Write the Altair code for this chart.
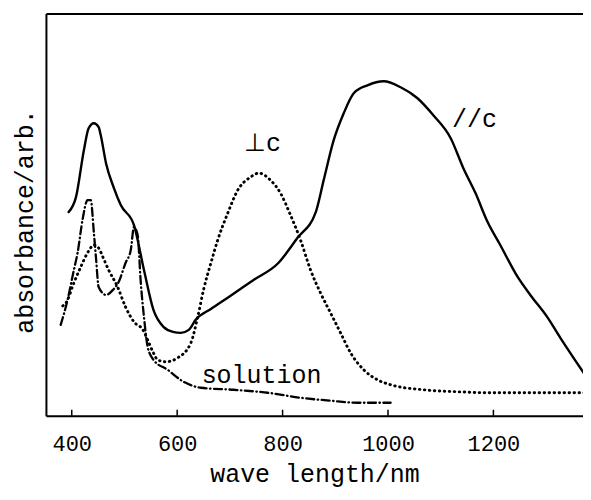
import altair as alt
import pandas as pd

# ---- data ----
# //c  (solid)
par_wl = [394, 408, 423, 432, 442, 451, 455, 465, 480, 493, 518, 537, 555, 574, 592, 607, 622, 635, 664, 698, 745, 792, 828, 863, 878, 897, 916, 935, 961, 992, 1024, 1056, 1086, 1119, 1143, 1166, 1189, 1213, 1246, 1270, 1302, 1327, 1352, 1384]
par_ab = [2.04, 2.19, 2.66, 2.88, 2.93, 2.89, 2.81, 2.53, 2.28, 2.11, 1.91, 1.46, 1.06, 0.89, 0.84, 0.83, 0.86, 0.96, 1.07, 1.19, 1.36, 1.53, 1.78, 2.04, 2.36, 2.76, 3.03, 3.23, 3.31, 3.35, 3.29, 3.18, 3.01, 2.78, 2.48, 2.23, 1.94, 1.71, 1.39, 1.21, 0.99, 0.78, 0.58, 0.33]
# perpendicular c (dotted)
perp_wl = [383, 389, 404, 417, 432, 442, 451, 459, 470, 487, 502, 518, 535, 544, 554, 563, 578, 601, 626, 639, 650, 664, 677, 696, 715, 739, 755, 777, 796, 815, 834, 853, 872, 891, 910, 929, 954, 980, 1005, 1067, 1132, 1194, 1321, 1384]
perp_ab = [1.10, 1.13, 1.33, 1.49, 1.65, 1.71, 1.68, 1.59, 1.46, 1.29, 1.09, 0.94, 0.86, 0.76, 0.64, 0.56, 0.54, 0.58, 0.73, 0.99, 1.26, 1.53, 1.76, 2.03, 2.26, 2.39, 2.43, 2.36, 2.23, 2.01, 1.76, 1.46, 1.23, 1.03, 0.83, 0.63, 0.46, 0.36, 0.31, 0.26, 0.24, 0.23, 0.23, 0.23]
# solution (dash-dot)
sol_wl = [379, 392, 404, 411, 421, 430, 436, 442, 446, 451, 465, 478, 489, 502, 512, 518, 525, 531, 537, 544, 555, 582, 612, 645, 707, 772, 834, 891, 942, 1005]
sol_ab = [0.91, 1.16, 1.46, 1.63, 1.98, 2.16, 2.16, 1.83, 1.58, 1.29, 1.21, 1.26, 1.34, 1.53, 1.66, 1.89, 1.81, 1.33, 0.99, 0.69, 0.56, 0.46, 0.34, 0.28, 0.26, 0.23, 0.18, 0.15, 0.13, 0.13]

tick_values = [400, 600, 800, 1000, 1200]
label_text = ["//c", "\u22a5c", "solution"]
label_wl = [1164, 762, 760]
label_ab = [2.89, 2.65, 0.33]

X_DOMAIN = [351, 1370]
Y_DOMAIN = [0, 4.03]
MONO = "Liberation Mono"

xs = alt.Scale(domain=X_DOMAIN, nice=False, zero=False)
ys = alt.Scale(domain=Y_DOMAIN, nice=False, zero=True)

y_axis = alt.Axis(labels=False, ticks=False, grid=False,
                  titleFont=MONO, titleFontSize=25, titleFontWeight="normal",
                  titleColor="black", titlePadding=8, titleY=208,
                  domainColor="black", domainWidth=2)

def yenc():
    return alt.Y("ab:Q", scale=ys, title="absorbance/arb.", axis=y_axis)

def line_layer(wl, ab, dash, width, axis=False):
    df = pd.DataFrame({"wl": wl, "ab": ab})
    if axis:
        xenc = alt.X("wl:Q", scale=xs, title="wave length/nm",
                     axis=alt.Axis(values=tick_values, orient="bottom", grid=False,
                                   ticks=False, format="d", labelFont=MONO, labelFontSize=22,
                                   labelColor="black", labelPadding=18,
                                   titleFont=MONO, titleFontSize=25, titleFontWeight="normal",
                                   titleColor="black", titlePadding=7,
                                   domainColor="black", domainWidth=2))
    else:
        xenc = alt.X("wl:Q", scale=xs, axis=None)
    kw = dict(color="black", strokeWidth=width, interpolate="monotone", clip=True,
              strokeCap="round")
    if dash:
        kw["strokeDash"] = dash
    return alt.Chart(df).mark_line(**kw).encode(x=xenc, y=yenc())

solid = line_layer(par_wl, par_ab, None, 2.4, axis=True)
dotted = line_layer(perp_wl, perp_ab, [0.5, 4.5], 2.9)
dashdot = line_layer(sol_wl, sol_ab, [8, 3.5, 0.5, 3.5], 2.3)

lab_df = pd.DataFrame({"t": label_text, "wl": label_wl, "ab": label_ab})
labels = alt.Chart(lab_df).mark_text(font=MONO, fontSize=25, color="black",
                                     align="center", baseline="alphabetic").encode(
    x=alt.X("wl:Q", scale=xs,
            axis=alt.Axis(orient="top", labels=False, ticks=False, grid=False, title="",
                          domainColor="black", domainWidth=2)),
    y=yenc(),
    text="t:N",
)

tick_df = pd.DataFrame({"wl": tick_values})
ticks = alt.Chart(tick_df).mark_rule(color="black", strokeWidth=1.5).encode(
    x=alt.X("wl:Q", scale=xs, axis=None),
    y=alt.value(397),
    y2=alt.value(403),
)

chart = alt.layer(solid, dotted, dashdot, ticks, labels).resolve_axis(x="independent").properties(
    width=538, height=403,
    padding={"left": 5, "top": 5, "right": 0, "bottom": 8},
).configure_view(stroke=None).configure(background="white")

chart.save("out.html", embed_options={"renderer": "svg", "actions": False})
